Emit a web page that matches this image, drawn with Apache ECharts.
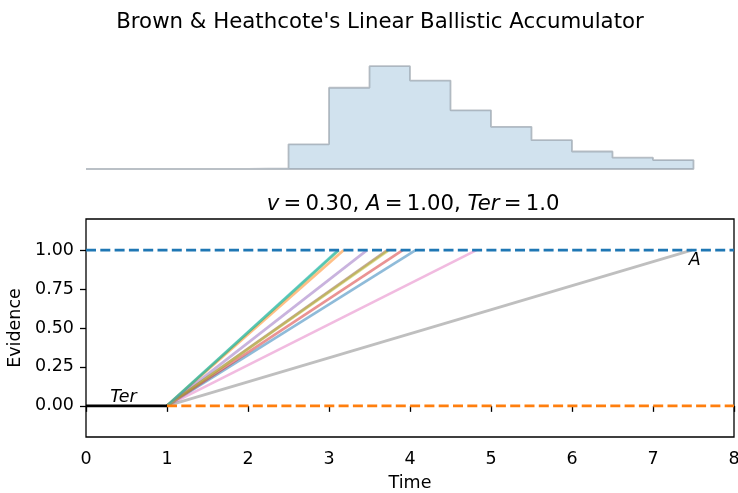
<!DOCTYPE html>
<html><head><meta charset="utf-8">
<script src="https://cdn.jsdelivr.net/npm/echarts@6/dist/echarts.min.js"></script>
<style>html,body{margin:0;padding:0;background:#fff;overflow:hidden}#c{width:738px;height:493px}</style>
</head><body><div id="c"></div>
<script>
// Histogram of decision times (bin edges and counts)
const binEdges = [0,0.5,1,1.5,2,2.5,3,3.5,4,4.5,5,5.5,6,6.5,7,7.5];
const binCounts = [0,0,0,0,0.6,24,79,100,86,57,41,28,17,11,8.7];
// Accumulator trajectories: start at Ter, end at threshold
const ter = 1.0;
const threshold = 1.0;
const startEvidence = 0.0;
const accEndTimes = [4.07,3.18,3.12,3.91,3.47,3.72,4.82,7.48,3.74,3.11];
const accColors = ['rgba(31,119,180,0.5)','rgba(255,127,14,0.5)','rgba(44,160,44,0.5)','rgba(214,39,40,0.5)','rgba(148,103,189,0.5)','rgba(140,86,75,0.5)','rgba(227,119,194,0.5)','rgba(127,127,127,0.5)','rgba(188,189,34,0.5)','rgba(23,190,207,0.5)'];
const xTicks = [0,1,2,3,4,5,6,7,8];
const yTicks = [0,0.25,0.5,0.75,1.0];
const suptitle = "Brown & Heathcote's Linear Ballistic Accumulator";

const font = 'DejaVu Sans';
const chart = echarts.init(document.getElementById('c'), null, {renderer:'canvas'});

// histogram outline as step vertices
const histPts = [[binEdges[0],0]];
for (let i=0;i<binCounts.length;i++){ histPts.push([binEdges[i],binCounts[i]]); histPts.push([binEdges[i+1],binCounts[i]]); }
histPts.push([binEdges[binEdges.length-1],0]);
histPts.push([binEdges[0],0]);

const series = [];
series.push({type:'line', xAxisIndex:0, yAxisIndex:0, data:histPts, symbol:'none', silent:true,
  lineStyle:{color:'rgba(140,150,160,0.6)', width:1.8}, areaStyle:{color:'#d1e2ee', opacity:1, origin:'start'}, z:2});
accEndTimes.forEach((t,i)=>{
  series.push({type:'line', xAxisIndex:1, yAxisIndex:1, data:[[ter,startEvidence],[t,threshold]], symbol:'none', silent:true,
    lineStyle:{color:accColors[i], width:2.7}, z:3});
});
series.push({type:'line', xAxisIndex:1, yAxisIndex:1, data:[[0,threshold],[8,threshold]], symbol:'none', silent:true,
  lineStyle:{color:'#1f77b4', width:2.8, type:[10,4.3]}, z:4});
series.push({type:'line', xAxisIndex:1, yAxisIndex:1, data:[[ter,startEvidence],[8,startEvidence]], symbol:'none', silent:true,
  lineStyle:{color:'#ff7f0e', width:2.8, type:[10,4.3]}, z:4});
series.push({type:'line', xAxisIndex:1, yAxisIndex:1, data:[[0,startEvidence],[ter,startEvidence]], symbol:'none', silent:true,
  lineStyle:{color:'#000', width:2.8}, z:5});
// annotations
series.push({type:'scatter', xAxisIndex:1, yAxisIndex:1, symbolSize:0, silent:true, z:6,
  itemStyle:{opacity:1},
  data:[{value:[0.3,0.02], name:'Ter'},{value:[7.44,0.9], name:'A'}],
  label:{show:true, position:'inside', formatter:p=>p.name, color:'#000', opacity:1, fontFamily:font, fontStyle:'italic', fontSize:17.5,
    align:'left', verticalAlign:'bottom', offset:[0,4]}});

chart.setOption({
  animation:false,
  backgroundColor:'#fff',
  title:[
    {text:suptitle, left:375, textAlign:'center', top:7, textStyle:{fontFamily:font, fontSize:21.3, fontWeight:'normal', color:'#000'}},
    {text:'{i|v}\u2009=\u20090.30, {i|A}\u2009=\u20091.00, {i|Ter}\u2009=\u20091.0', left:408, textAlign:'center', top:189,
      textStyle:{fontFamily:font, fontSize:21.2, fontWeight:'normal', color:'#000',
        rich:{i:{fontFamily:font, fontStyle:'italic', fontSize:21.2, color:'#000'}}}}
  ],
  grid:[
    {left:86, width:648, top:61, height:108, show:false, outerBoundsMode:'none', containLabel:false},
    {left:86, width:648, top:219, height:218, show:true, borderColor:'#000', borderWidth:1.3, backgroundColor:'transparent', outerBoundsMode:'none', containLabel:false}
  ],
  xAxis:[
    {gridIndex:0, type:'value', min:0, max:8, show:false},
    {gridIndex:1, type:'value', min:0, max:8, interval:1, name:'Time', nameLocation:'middle', nameGap:37,
      nameTextStyle:{fontFamily:font, fontSize:17.5, color:'#000'},
      axisLine:{show:false}, splitLine:{show:false},
      axisTick:{show:true, length:6, lineStyle:{color:'#000', width:1.3}},
      axisLabel:{fontFamily:font, fontSize:17.5, color:'#000', margin:13, formatter:v=>String(v)}}
  ],
  yAxis:[
    {gridIndex:0, type:'value', min:0, max:105, show:false},
    {gridIndex:1, type:'value', min:-0.2, max:1.2, name:'Evidence', nameLocation:'middle', nameGap:53, nameRotate:90,
      nameTextStyle:{fontFamily:font, fontSize:17.5, color:'#000'},
      axisLine:{show:false}, splitLine:{show:false},
      axisTick:{show:true, length:6, customValues:yTicks, lineStyle:{color:'#000', width:1.3}},
      axisLabel:{fontFamily:font, fontSize:17.5, color:'#000', margin:12, customValues:yTicks, formatter:v=>Number(v).toFixed(2)}}
  ],
  series:series
});
</script></body></html>
